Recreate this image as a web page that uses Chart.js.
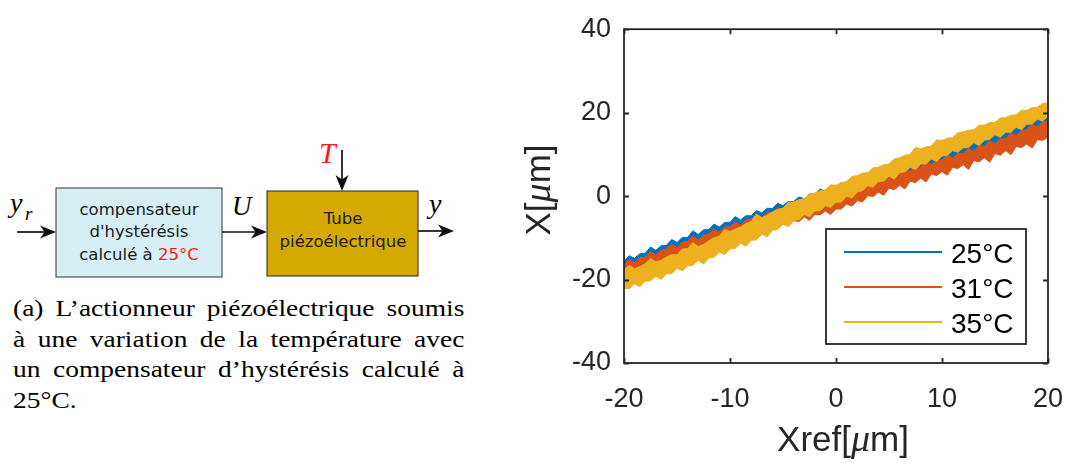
<!DOCTYPE html>
<html>
<head>
<meta charset="utf-8">
<script src="https://cdn.jsdelivr.net/npm/chart.js@4.4.0/dist/chart.umd.min.js"></script>
<style>
  html, body { margin: 0; padding: 0; background: #fff; }
  body { width: 1083px; height: 463px; position: relative; overflow: hidden; }
  #diagram { position: absolute; left: 0; top: 0; }
  #caption { position: absolute; left: 13px; top: 294px; width: 370px;
    transform: scaleX(1.22); transform-origin: 0 0;
    font-family: "Liberation Serif", serif; font-size: 22.5px; line-height: 30.5px; color: #000; }
  #caption div { white-space: nowrap; }
  #caption .j { text-align: justify; text-align-last: justify; }
  #chartBox { position: absolute; left: 490px; top: 0; width: 593px; height: 463px; }
</style>
</head>
<body>

<!-- block diagram -->
<svg id="diagram" width="480" height="290" xmlns="http://www.w3.org/2000/svg">
  <g stroke="#111" stroke-width="1.7" fill="none">
    <line x1="17" y1="232" x2="46" y2="232"/>
    <line x1="222" y1="232" x2="257" y2="232"/>
    <line x1="342" y1="150" x2="342" y2="181"/>
    <line x1="418" y1="231" x2="444" y2="231"/>
  </g>
  <g fill="#111">
    <path d="M56,232 L40,225.5 L44.5,232 L40,238.5 Z"/>
    <path d="M267,232 L251,225.5 L255.5,232 L251,238.5 Z"/>
    <path d="M342,191 L335.5,175 L342,179.5 L348.5,175 Z"/>
    <path d="M454,231 L438,224.5 L442.5,231 L438,237.5 Z"/>
  </g>
  <rect x="56" y="188" width="166" height="89" fill="#d7eef4" stroke="#333" stroke-width="1"/>
  <rect x="267" y="191" width="151" height="85" fill="#d4aa00" stroke="#222" stroke-width="1"/>
  <g font-family="DejaVu Sans" font-size="16.5" fill="#1a1a1a" text-anchor="middle">
    <text x="139" y="215">compensateur</text>
    <text x="139" y="237">d'hystérésis</text>
    <text x="139" y="260">calculé à <tspan fill="#ff1a1a">25°C</tspan></text>
    <text x="343" y="224">Tube</text>
    <text x="343" y="247">piézoélectrique</text>
  </g>
  <g font-family="Liberation Serif" font-style="italic" fill="#000">
    <text x="10" y="212" font-size="28">y</text>
    <text x="25" y="220" font-size="19">r</text>
    <text x="232" y="215" font-size="27">U</text>
    <text x="319" y="163" font-size="30" fill="#ff1a1a">T</text>
    <text x="429" y="213" font-size="28">y</text>
  </g>
</svg>

<div id="caption">
  <div class="j">(a) L’actionneur piézoélectrique soumis</div>
  <div class="j">à une variation de la température avec</div>
  <div class="j">un compensateur d’hystérésis calculé à</div>
  <div>25°C.</div>
</div>

<div id="chartBox"><canvas id="chart" width="593" height="463"></canvas></div>

<script>
// x positions (Xref, µm)
const xref = [-20, -19.5, -19, -18.5, -18, -17.5, -17, -16.5, -16, -15.5, -15, -14.5, -14, -13.5, -13, -12.5,
  -12, -11.5, -11, -10.5, -10, -9.5, -9, -8.5, -8, -7.5, -7, -6.5, -6, -5.5, -5, -4.5, -4, -3.5, -3, -2.5,
  -2, -1.5, -1, -0.5, 0, 0.5, 1, 1.5, 2, 2.5, 3, 3.5, 4, 4.5, 5, 5.5, 6, 6.5, 7, 7.5, 8, 8.5, 9, 9.5,
  10, 10.5, 11, 11.5, 12, 12.5, 13, 13.5, 14, 14.5, 15, 15.5, 16, 16.5, 17, 17.5, 18, 18.5, 19, 19.5, 20];

// upper / lower edges of each noisy loop (X, µm)
const blueHi = [-15.6, -14.3, -14.9, -13.8, -13.7, -12.2, -13.0, -11.9, -11.8, -10.4, -11.1, -9.9, -9.9, -8.3, -9.2, -8.1,
  -8.0, -6.7, -7.4, -6.3, -6.3, -4.9, -5.7, -4.7, -4.7, -3.5, -4.0, -2.9, -3.0, -1.7, -2.3, -1.3, -1.3, -0.2, -0.6, 0.5,
  0.4, 1.7, 1.1, 2.1, 2.0, 3.3, 2.8, 3.9, 3.9, 5.1, 4.6, 5.7, 5.6, 6.9, 6.4, 7.4, 7.4, 8.7, 8.1, 9.2, 9.1, 10.5, 9.8, 10.8,
  10.8, 12.1, 11.5, 12.6, 12.4, 13.7, 13.1, 14.1, 14.1, 15.4, 14.9, 16.0, 15.8, 17.2, 16.7, 17.8, 17.8, 19.2, 18.7, 19.9, 19.8];
const blueLo = [-19.8, -19.9, -18.8, -19.3, -17.9, -17.9, -16.9, -17.5, -16.1, -16.2, -15.0, -15.5, -14.2, -14.2, -13.1, -13.8,
  -12.4, -12.5, -11.3, -11.8, -10.5, -10.5, -9.4, -10.1, -8.8, -8.9, -7.7, -8.3, -7.0, -7.0, -5.9, -6.6, -5.2, -5.3, -4.1, -4.7,
  -3.4, -3.4, -2.3, -3.1, -1.8, -1.9, -0.8, -1.3, 0.0, 0.0, 1.0, 0.3, 1.6, 1.5, 2.6, 1.8, 3.3, 3.3, 4.3, 3.7, 5.0, 4.9, 5.9, 5.4,
  6.8, 6.8, 7.8, 7.2, 8.6, 8.4, 9.4, 9.0, 10.3, 10.3, 11.2, 10.6, 12.0, 11.8, 12.8, 12.4, 13.7, 13.7, 14.6, 14.3, 15.6];
const redHi = [-16.5, -15.3, -15.9, -14.8, -14.6, -13.3, -14.1, -12.9, -12.7, -11.5, -12.3, -11.0, -10.9, -9.5, -10.5, -9.3,
  -9.1, -8.0, -8.6, -7.4, -7.4, -6.2, -6.9, -5.7, -5.5, -4.4, -5.1, -4.0, -4.0, -2.8, -3.5, -2.4, -2.3, -1.3, -1.9, -0.8,
  -0.8, 0.4, -0.3, 0.8, 0.8, 2.0, 1.3, 2.4, 2.4, 3.5, 2.9, 4.1, 4.0, 5.1, 4.4, 5.5, 5.5, 6.7, 6.0, 7.0, 7.0, 8.2, 7.5, 8.7,
  8.6, 9.9, 9.1, 10.2, 10.2, 11.4, 10.8, 12.0, 12.0, 13.2, 12.6, 13.7, 13.8, 15.1, 14.5, 15.8, 15.9, 17.2, 16.6, 17.8, 18.0];
const redLo = [-20.4, -20.7, -19.6, -20.3, -18.9, -18.9, -17.9, -18.6, -17.3, -17.4, -16.2, -16.8, -15.5, -15.5, -14.4, -15.2,
  -13.7, -13.7, -12.5, -13.1, -11.8, -11.7, -10.6, -11.3, -9.9, -9.9, -8.7, -9.3, -7.9, -7.8, -6.7, -7.2, -5.9, -6.1, -5.0, -5.8,
  -4.4, -4.5, -3.6, -4.4, -3.1, -3.1, -1.9, -2.4, -1.1, -1.4, 0.1, -0.1, 0.9, 0.2, 1.9, 1.5, 2.6, 1.7, 3.6, 3.2, 4.3, 3.4, 5.3, 4.9,
  5.9, 5.0, 6.9, 6.6, 7.5, 6.4, 8.5, 8.2, 9.2, 8.1, 10.2, 9.8, 10.9, 9.9, 11.9, 11.6, 12.5, 11.5, 13.5, 13.4, 14.1];
const yellowHi = [-17.7, -16.6, -17.4, -16.9, -16.2, -14.9, -15.8, -15.4, -14.6, -14.0, -14.1, -12.7, -12.6, -11.1, -12.1, -11.6,
  -10.7, -10.0, -9.6, -8.0, -8.5, -7.9, -7.4, -6.6, -6.1, -4.3, -5.2, -4.6, -3.8, -3.2, -2.9, -1.5, -1.4, -0.9, -0.6, 0.5,
  0.7, 1.3, 1.5, 2.7, 2.6, 3.2, 3.5, 4.7, 4.9, 5.5, 5.6, 6.8, 6.9, 7.5, 7.7, 8.9, 9.2, 9.8, 10.0, 11.7, 11.3, 11.8, 12.0, 13.5,
  13.3, 13.9, 14.0, 15.2, 15.4, 15.8, 15.9, 17.0, 17.0, 17.6, 17.7, 18.7, 18.8, 19.4, 19.5, 20.6, 20.5, 21.2, 21.3, 22.2, 22.2];
const yellowLo = [-22.1, -22.2, -21.0, -21.7, -20.4, -20.3, -19.2, -20.0, -18.6, -18.6, -17.3, -17.9, -16.7, -16.6, -15.4, -16.3,
  -14.8, -14.7, -13.4, -14.0, -12.7, -12.5, -11.3, -12.0, -10.6, -10.5, -9.1, -9.8, -8.2, -8.0, -6.7, -7.2, -5.8, -5.7, -4.4, -5.0,
  -3.6, -3.5, -2.3, -2.7, -1.5, -1.4, 0.0, -0.5, 1.0, 1.3, 2.5, 2.1, 3.5, 3.6, 4.8, 4.1, 5.6, 5.8, 6.9, 6.4, 7.7, 7.7, 8.9, 8.3,
  9.6, 9.8, 10.9, 10.5, 11.6, 11.6, 12.8, 12.1, 13.4, 13.6, 14.7, 14.1, 15.3, 15.3, 16.5, 15.9, 17.2, 17.3, 18.4, 18.0, 19.2];

const labels = ['25°C', '31°C', '35°C'];
const colors = ['#0072BD', '#D95319', '#EDB120'];
const xTicks = [-20, -10, 0, 10, 20];
const yTicks = [-40, -20, 0, 20, 40];

const AXIS = '#262626';
const FONT = '"Liberation Sans", Arial, sans-serif';

const toPts = arr => arr.map((v, i) => ({ x: xref[i], y: v }));

// first dataset is drawn on top, so 35°C goes first
const bands = [
  { label: labels[2], color: colors[2], hi: yellowHi, lo: yellowLo },
  { label: labels[1], color: colors[1], hi: redHi, lo: redLo },
  { label: labels[0], color: colors[0], hi: blueHi, lo: blueLo }
];
const datasets = [];
bands.forEach(b => {
  const loIndex = datasets.length + 1;
  datasets.push({ label: b.label, data: toPts(b.hi), borderColor: b.color, backgroundColor: b.color,
    borderWidth: 1, pointRadius: 0, tension: 0, fill: loIndex });
  datasets.push({ label: '', data: toPts(b.lo), borderColor: b.color, backgroundColor: b.color,
    borderWidth: 1, pointRadius: 0, tension: 0, fill: false });
});

// box, inward ticks, legend and axis titles
const matlabAxes = {
  id: 'matlabAxes',
  afterDraw(chart) {
    const { ctx, chartArea: a, scales } = chart;
    ctx.save();
    ctx.strokeStyle = AXIS;
    ctx.lineWidth = 1.8;
    ctx.strokeRect(a.left, a.top, a.right - a.left, a.bottom - a.top);
    const tl = 5;
    ctx.beginPath();
    scales.x.ticks.forEach(t => {
      const p = Math.round(scales.x.getPixelForValue(t.value)) + 0.5;
      ctx.moveTo(p, a.bottom); ctx.lineTo(p, a.bottom - tl);
      ctx.moveTo(p, a.top); ctx.lineTo(p, a.top + tl);
    });
    scales.y.ticks.forEach(t => {
      const p = Math.round(scales.y.getPixelForValue(t.value)) + 0.5;
      ctx.moveTo(a.left, p); ctx.lineTo(a.left + tl, p);
      ctx.moveTo(a.right, p); ctx.lineTo(a.right - tl, p);
    });
    ctx.stroke();

    // legend
    const lx = 336, ly = 229, lw = 200, lh = 115;
    ctx.fillStyle = '#fff';
    ctx.fillRect(lx, ly, lw, lh);
    ctx.lineWidth = 1.8;
    ctx.strokeStyle = AXIS;
    ctx.strokeRect(lx, ly, lw, lh);
    ctx.font = '28px ' + FONT;
    ctx.textBaseline = 'alphabetic';
    labels.forEach((lab, i) => {
      const y = 252 + i * 35;
      ctx.strokeStyle = colors[i];
      ctx.lineWidth = 2;
      ctx.beginPath(); ctx.moveTo(354, y); ctx.lineTo(452, y); ctx.stroke();
      ctx.fillStyle = '#000';
      ctx.fillText(lab, 461, y + 11);
    });

    // axis titles with italic mu
    const drawTitle = (parts, cx, baseY) => {
      let w = 0;
      parts.forEach(p => { ctx.font = p[1]; w += ctx.measureText(p[0]).width; });
      let x = cx - w / 2;
      ctx.textAlign = 'left';
      parts.forEach(p => { ctx.font = p[1]; ctx.fillText(p[0], x, baseY); x += ctx.measureText(p[0]).width; });
    };
    const sans = '35px ' + FONT;
    const mu = 'italic 38px "Liberation Serif", serif';
    ctx.fillStyle = AXIS;
    drawTitle([['Xref[', sans], ['\u03bc', mu], ['m]', sans]], 353, 451);
    ctx.save();
    ctx.translate(60, 190);
    ctx.rotate(-Math.PI / 2);
    drawTitle([['X[', sans], ['\u03bc', mu], ['m]', sans]], 0, 0);
    ctx.restore();
    ctx.restore();
  }
};

new Chart(document.getElementById('chart'), {
  type: 'line',
  data: { datasets },
  options: {
    responsive: false,
    animation: false,
    devicePixelRatio: 1,
    layout: { padding: { left: 0, right: 20, top: 21, bottom: 0 } },
    plugins: { legend: { display: false }, tooltip: { enabled: false } },
    scales: {
      x: {
        type: 'linear', min: xTicks[0], max: xTicks[xTicks.length - 1],
        afterBuildTicks: s => { s.ticks = xTicks.map(v => ({ value: v })); },
        grid: { display: false, drawTicks: false },
        border: { display: false },
        ticks: { padding: 20, color: AXIS, font: { family: FONT, size: 27 } },
        afterFit: s => { s.height = 100; }
      },
      y: {
        type: 'linear', min: yTicks[0], max: yTicks[yTicks.length - 1],
        afterBuildTicks: s => { s.ticks = yTicks.map(v => ({ value: v })); },
        grid: { display: false, drawTicks: false },
        border: { display: false },
        ticks: { padding: 13, color: AXIS, font: { family: FONT, size: 27 } },
        afterFit: s => { s.width = 134; }
      }
    }
  },
  plugins: [matlabAxes]
});
</script>
</body>
</html>
